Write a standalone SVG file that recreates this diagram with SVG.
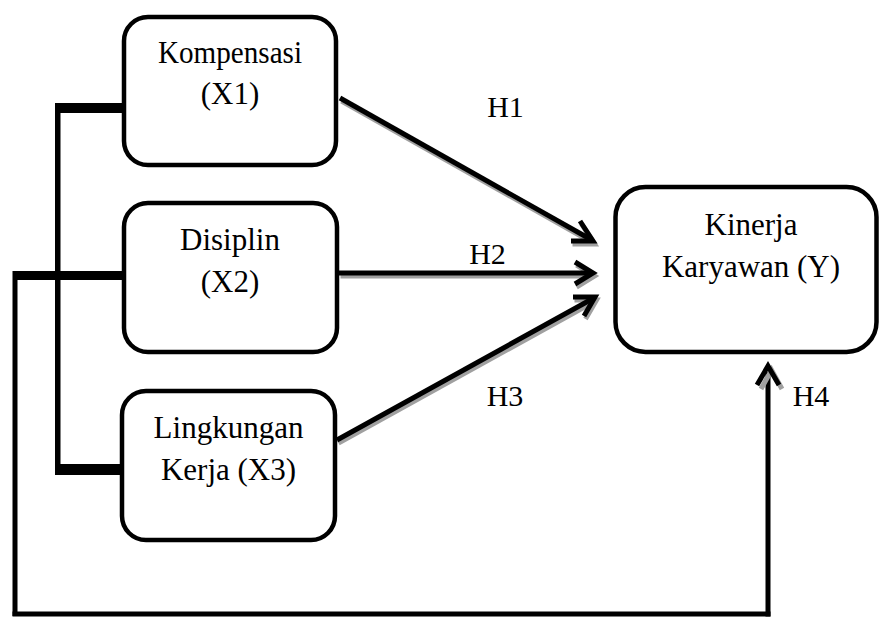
<svg xmlns="http://www.w3.org/2000/svg" width="879" height="617" viewBox="0 0 879 617">
<style>
.box{fill:#fff;stroke:#000;stroke-width:4.5}
.shadow{fill:none;stroke:#b0b0b0;stroke-width:4.5}
.t{font-family:"Liberation Serif","Times New Roman",serif;font-size:31px;fill:#000;text-anchor:middle}
.h{font-family:"Liberation Serif","Times New Roman",serif;font-size:30px;fill:#000;text-anchor:middle}
.ln{fill:none;stroke:#000;stroke-width:5;stroke-linejoin:miter}
.lns{fill:none;stroke:#a0a0a0;stroke-width:5}
</style>
<rect width="879" height="617" fill="#fff"/>
<g id="connectors">
  <!-- bracket X1-X3 -->
  <rect x="55" y="103" width="70" height="10" fill="#000"/>
  <rect x="55" y="103" width="5.5" height="372" fill="#000"/>
  <rect x="55" y="464" width="68" height="11" fill="#000"/>
  <!-- loop X2 -> Y (H4) -->
  <rect x="13" y="271" width="110" height="9" fill="#000"/>
  <rect x="12.5" y="271" width="5" height="345" fill="#000"/>
  <rect x="12.5" y="611.5" width="758" height="5" fill="#000"/>
  <rect x="765.5" y="372" width="5" height="244.5" fill="#000"/>
  <polyline class="lns" points="759.5,387 770,368 780.5,387" transform="translate(1.5,2)"/>
  <polyline class="ln" points="757,385 768,366 779,385"/>
  <!-- H1 -->
  <g transform="translate(1.5,3)">
    <line class="lns" x1="340" y1="98" x2="590" y2="239"/>
    <polyline class="lns" points="580,221 593,241 571,241"/>
  </g>
  <line class="ln" x1="340" y1="98" x2="590" y2="239"/>
  <polyline class="ln" points="580,221 593,241 571,241"/>
  <!-- H2 -->
  <g transform="translate(1.5,3)">
    <line class="lns" x1="339" y1="273" x2="590" y2="273"/>
    <polyline class="lns" points="575,262 593,273 575,284"/>
  </g>
  <line class="ln" x1="339" y1="273" x2="590" y2="273"/>
  <polyline class="ln" points="575,262 593,273 575,284"/>
  <!-- H3 -->
  <g transform="translate(1.5,3)">
    <line class="lns" x1="337" y1="440" x2="592" y2="299"/>
    <polyline class="lns" points="573,297 595,297 584,316"/>
  </g>
  <line class="ln" x1="337" y1="440" x2="592" y2="299"/>
  <polyline class="ln" points="573,297 595,297 584,316"/>
  <text class="h" x="505.5" y="117">H1</text>
  <text class="h" x="487.5" y="264">H2</text>
  <text class="h" x="505" y="406">H3</text>
  <text class="h" x="811" y="406">H4</text>
</g>
<g id="X1">
  <rect class="box" x="124" y="17" width="212" height="148" rx="24"/>
  <text class="t" x="230" y="63" textLength="144" lengthAdjust="spacingAndGlyphs">Kompensasi</text>
  <text class="t" x="230" y="104">(X1)</text>
</g>
<g id="X2">
  <rect class="box" x="124" y="203" width="213" height="149" rx="24"/>
  <text class="t" x="230" y="250">Disiplin</text>
  <text class="t" x="230" y="292">(X2)</text>
</g>
<g id="X3">
  <rect class="box" x="122" y="391" width="213" height="149" rx="24"/>
  <text class="t" x="228.5" y="438">Lingkungan</text>
  <text class="t" x="228.5" y="480">Kerja (X3)</text>
</g>
<g id="Y">
  <rect class="box" x="615.5" y="187" width="261" height="165" rx="30"/>
  <text class="t" x="751" y="235">Kinerja</text>
  <text class="t" x="751" y="277">Karyawan (Y)</text>
</g>
</svg>
